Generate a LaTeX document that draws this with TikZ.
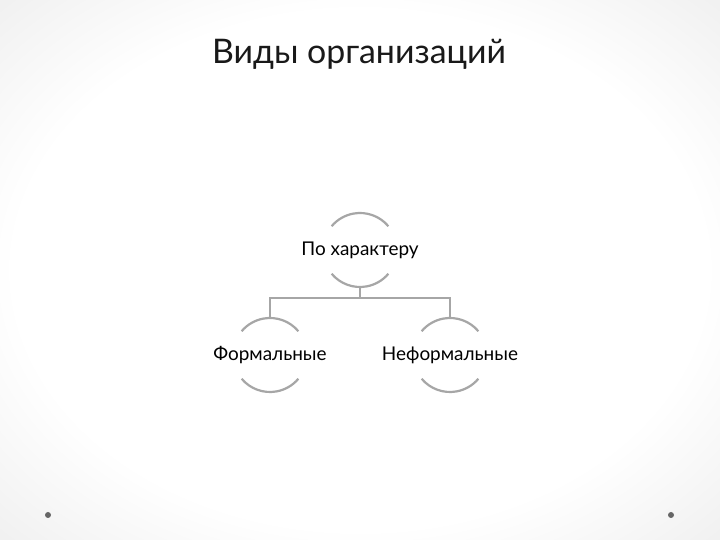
\documentclass[tikz,border=0pt]{standalone}
\usepackage{fontspec}
\setmainfont{Lato}
\usetikzlibrary{positioning}
\pgfdeclareradialshading{vignette}{\pgfpoint{0bp}{0bp}}{%
  color(0bp)=(white); color(24bp)=(white); color(50bp)=(black!13); color(72bp)=(black!22)}
\tikzset{
  kind/.style={circle, minimum size=74bp, inner sep=0pt, outer sep=0pt},
  ring/.style={draw=black!35, line width=2.2bp},
  link/.style={draw=black!35, line width=1.4bp},
  dot/.style={circle, fill=black!60, inner sep=0pt, minimum size=6bp}
}
\begin{document}
\begin{tikzpicture}[x=1bp, y=1bp, node distance=105bp]
        \shade[shading=vignette] (0,0) rectangle (720,540);
        \useasboundingbox (0,0) rectangle (720,540);

        \node (title) [anchor=base] at (359,476) {\fontsize{34}{40}\selectfont\color{black!90}Виды организаций};
        \node[kind, label={center:\fontsize{19}{22}\selectfont По характеру}] (harakter) at (360,290) {};
        \node[kind, label={center:\fontsize{19}{22}\selectfont Формальные}] (formal) [below of=harakter, xshift=-90bp] {};
        \node[kind, label={center:\fontsize{19}{22}\selectfont Неформальные}] (neformal) [below of=harakter, xshift=90bp] {};
        \node[dot] (dotl) at (48,25) {};
        \node[dot] (dotr) at (671,25) {};

        \foreach \n in {harakter,formal,neformal} {
          \draw[ring] (\n.40) arc[start angle=40, end angle=140, radius=37bp];
          \draw[ring] (\n.220) arc[start angle=220, end angle=320, radius=37bp];
        }

        \draw[link] (harakter.south) -- ++(0,-11) -| (formal.north);
        \draw[link] (harakter.south) -- ++(0,-11) -| (neformal.north);
    \end{tikzpicture}
\end{document}
